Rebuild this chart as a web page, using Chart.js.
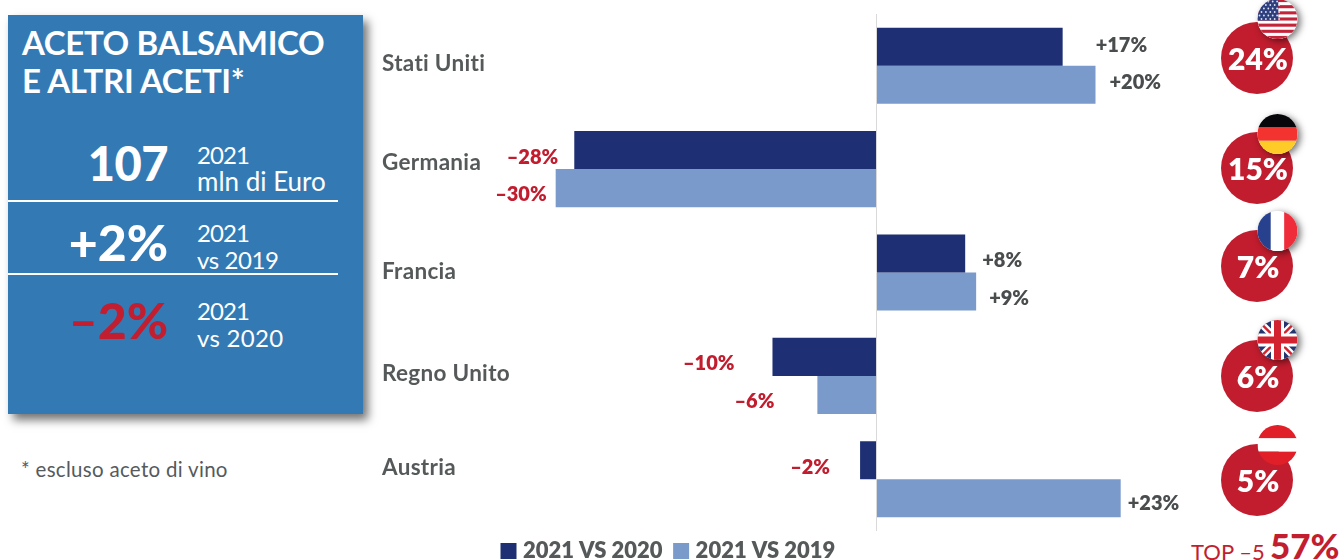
<!DOCTYPE html>
<html lang="it"><head><meta charset="utf-8">
<script src="https://cdn.jsdelivr.net/npm/chart.js@4"></script>
<style>
html,body{margin:0;padding:0;background:#fff;width:1342px;height:560px;overflow:hidden;font-family:Lato,sans-serif}
#wrap{position:absolute;left:0;top:0;width:1326px;height:560px}
#panel{position:absolute;left:8px;top:15px;width:355px;height:399px;background:#337ab5;box-shadow:5px 6px 9px rgba(0,0,0,.55)}
.t{position:absolute;white-space:nowrap;transform:translateY(-50%);line-height:1}
.w{color:#fff}.r{text-align:right}
.d{font-size:24px;letter-spacing:-.9px}
.rule{position:absolute;left:8px;width:330px;height:2px;background:#fff}
</style></head><body>
<div id="panel"></div>
<div class="rule" style="top:200px"></div><div class="rule" style="top:273px"></div>
<div class="t w" style="left:22px;top:42px;font-size:33px;font-weight:700;letter-spacing:-.35px">ACETO BALSAMICO</div>
<div class="t w" style="left:22px;top:80px;font-size:33px;font-weight:700;letter-spacing:-.35px">E ALTRI ACETI*</div>
<div class="t w r" style="right:1174px;top:163px;font-size:47px;font-weight:900;letter-spacing:-.5px">107</div>
<div class="t w d" style="left:197px;top:155px">2021</div>
<div class="t w" style="left:197px;top:181px;font-size:26px">mln di Euro</div>
<div class="t w r" style="right:1174px;top:242px;font-size:50px;font-weight:900">+2%</div>
<div class="t w d" style="left:197px;top:233px">2021</div>
<div class="t w d" style="left:197px;top:260px;letter-spacing:-.4px">vs 2019</div>
<div class="t r" style="right:1174px;top:320px;font-size:50px;font-weight:900;color:#c21e2f">–2%</div>
<div class="t w d" style="left:197px;top:311px">2021</div>
<div class="t w d" style="left:197px;top:338px;letter-spacing:.3px">vs 2020</div>
<div class="t" style="left:21px;top:469px;font-size:20.5px;letter-spacing:.3px;color:#555a5c">* escluso aceto di vino</div>
<div class="t" style="left:1191px;top:552px;font-size:22px;color:#c21e2f">TOP –5</div>
<div class="t" style="left:1270px;top:545px;font-size:35px;font-weight:900;color:#c21e2f">57%</div>
<div id="wrap"><canvas id="c" width="1326" height="560"></canvas></div>
<script>
const categories = ['Stati Uniti','Germania','Francia','Regno Unito','Austria'];
const seriesNames = ['2021 VS 2020','2021 VS 2019'];
const vs2020 = [17, -27.6, 8.1, -9.5, -1.5];
const vs2019 = [20, -29.3, 9.1, -5.4, 22.3];
const labels2020 = ['+17%','–28%','+8%','–10%','–2%'];
const labels2019 = ['+20%','–30%','+9%','–6%','+23%'];
const shares = ['24%','15%','7%','6%','5%'];
const flags = ['us','de','fr','uk','at'];

// placement tweaks, kept apart from the data
const gap2020 = [33,16,17,38,30];
const gap2019 = [14,9,13,43,7];
const dy2020 = [-1,7,7,7,7];
const dy2019 = [-2,6,7,7,5];
const catDy = [-2,-6,-1,-2,-12];
const shareY = [58,168,266,376,480];
const flagY = [19,134,231,340,445];

const RED='#c11d2e', DARK='#1f2f73', LIGHT='#7a9acb', GREY='#55595a';

function drawFlag(ctx,kind,x,y,r){
  ctx.save();
  if(kind!=='at'){ctx.save();ctx.shadowColor='rgba(0,0,0,.55)';ctx.shadowBlur=7;ctx.shadowOffsetX=3;ctx.shadowOffsetY=2;
    ctx.beginPath();ctx.arc(x,y,r,0,7);ctx.fillStyle='#fff';ctx.fill();ctx.restore();}
  ctx.beginPath();ctx.arc(x,y,r,0,7);ctx.clip();
  const L=x-r,T=y-r,S=2*r;
  const band=(c,a,b)=>{ctx.fillStyle=c;ctx.fillRect(L,T+a*S,S,(b-a)*S);};
  if(kind==='us'){
    band('#fff',0,1);
    for(let i=0;i<7;i++)band('#c3243a',i*2/13,(i*2+1)/13);
    ctx.fillStyle='#2d3f7f';ctx.fillRect(L,T,S*.52,S*.54);
    ctx.fillStyle='#dfe4f2';
    for(let i=0;i<6;i++)for(let j=0;j<5;j++){ctx.beginPath();ctx.arc(L+2+j*4.4+(i%2)*2,T+2.5+i*3.5,.9,0,7);ctx.fill();}
  } else if(kind==='de'){
    band('#07070b',0,.34);band('#f2332f',.34,.67);band('#ffcb27',.67,1);
  } else if(kind==='fr'){
    ctx.fillStyle='#27418f';ctx.fillRect(L,T,S/3,S);
    ctx.fillStyle='#fff';ctx.fillRect(L+S/3,T,S/3,S);
    ctx.fillStyle='#ee2c3a';ctx.fillRect(L+2*S/3,T,S/3,S);
  } else if(kind==='uk'){
    band('#25346f',0,1);
    ctx.lineCap='butt';
    const line=(c,w,x1,y1,x2,y2)=>{ctx.strokeStyle=c;ctx.lineWidth=w;ctx.beginPath();ctx.moveTo(x1,y1);ctx.lineTo(x2,y2);ctx.stroke();};
    line('#fff',7,L,T,L+S,T+S);line('#fff',7,L+S,T,L,T+S);
    line('#d3222f',2.5,L,T,L+S,T+S);line('#d3222f',2.5,L+S,T,L,T+S);
    line('#fff',13,x,T,x,T+S);line('#fff',13,L,y,L+S,y);
    line('#d3222f',7,x,T,x,T+S);line('#d3222f',7,L,y,L+S,y);
  } else {
    band('#e01f28',0,1/3);band('#fff',1/3,2/3);band('#e01f28',2/3,1);
  }
  ctx.restore();
}

const overlay={
  id:'overlay',
  beforeLayout(chart){
    // keep the legend band thin so the plot runs down to the reference's baseline
    const lg=chart.legend;
    if(!lg._thin){
      const fit=lg.fit;
      lg.fit=function(){fit.call(this);this.height=29;};
      lg._thin=true;
    }
  },
  afterLayout(chart){
    const lg=chart.legend;
    lg.left=490;lg.right=1326;lg.top=525;lg.bottom=560;
  },
  afterDatasetsDraw(chart){
    const {ctx,scales:{x,y}}=chart;
    ctx.save();
    ctx.textBaseline='middle';
    // category names
    ctx.font='700 22.5px Lato';ctx.fillStyle=GREY;ctx.textAlign='left';
    if('letterSpacing' in ctx)ctx.letterSpacing='0.3px';
    categories.forEach((c,i)=>ctx.fillText(c,382,y.getPixelForValue(i)+catDy[i]));
    if('letterSpacing' in ctx)ctx.letterSpacing='0px';
    // value labels
    ctx.font='800 20px Lato';
    const put=(vals,labs,gaps,dys,ds)=>{
      const meta=chart.getDatasetMeta(ds);
      vals.forEach((v,i)=>{
        const neg=v<0;
        ctx.fillStyle=neg?RED:'#4a4d4e';
        ctx.textAlign=neg?'right':'left';
        ctx.fillText(labs[i],x.getPixelForValue(v)+(neg?-gaps[i]:gaps[i]),meta.data[i].y+dys[i]);
      });
    };
    put(vs2020,labels2020,gap2020,dy2020,0);
    put(vs2019,labels2019,gap2019,dy2019,1);
    // share bubbles with flags
    shares.forEach((s,i)=>{
      ctx.beginPath();ctx.arc(1257,shareY[i],36,0,7);ctx.fillStyle=RED;ctx.fill();
      drawFlag(ctx,flags[i],1277.5,flagY[i],20);
      ctx.font='800 30px Lato';ctx.fillStyle='#fff';ctx.textAlign='center';
      ctx.fillText(s,1258,shareY[i]+2);
    });
    ctx.restore();
  }
};

new Chart(document.getElementById('c'),{
  type:'bar',
  data:{labels:categories,datasets:[
    {label:seriesNames[0],data:vs2020,backgroundColor:DARK,borderColor:DARK,categoryPercentage:.736,barPercentage:1},
    {label:seriesNames[1],data:vs2019,backgroundColor:LIGHT,borderColor:LIGHT,categoryPercentage:.736,barPercentage:1}
  ]},
  options:{
    indexAxis:'y',responsive:false,animation:false,
    layout:{padding:{left:383.75,right:121,top:14,bottom:0}},
    plugins:{
      tooltip:{enabled:false},
      legend:{position:'bottom',align:'start',labels:{
        boxWidth:7,boxHeight:7,padding:15,color:GREY,font:{family:'Lato',size:22,weight:'800'},
        generateLabels(chart){
          return chart.data.datasets.map((d,i)=>({text:d.label,fillStyle:d.backgroundColor,strokeStyle:d.borderColor,lineWidth:9,fontColor:GREY,datasetIndex:i,hidden:false}));
        }
      }}
    },
    scales:{
      x:{min:-45,max:30,position:'bottom',ticks:{display:false,stepSize:15},border:{display:false},
         grid:{drawTicks:false,color:c=>c.tick&&c.tick.value===0?'#d9d9d9':'transparent'}},
      y:{display:false,offset:true}
    }
  },
  plugins:[overlay]
});
</script>
</body></html>
